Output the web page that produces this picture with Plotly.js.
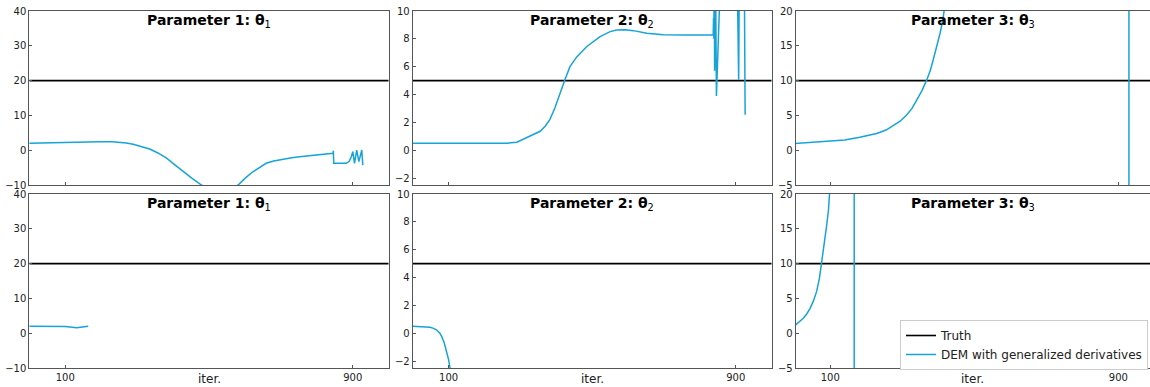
<!DOCTYPE html>
<html>
<head>
<meta charset="utf-8">
<script src="https://cdn.plot.ly/plotly-3.0.1.min.js"></script>
<style>html,body{margin:0;padding:0;background:#fff;}#chart{width:1150px;height:387px;}</style>
</head>
<body>
<div id="chart"></div>
<script>
// ---- data ----
const panelTitles = ["<b>Parameter 1: θ</b><sub>1</sub>", "<b>Parameter 2: θ</b><sub>2</sub>", "<b>Parameter 3: θ</b><sub>3</sub>"];
const truthValues = [20, 5, 10];
const truthIter = [0, 1000];
const xTickVals = [100, 900];
const xTickText = ["100", "900"];
const seriesNames = ["Truth", "DEM with generalized derivatives"];

// top row
const p1TopIter  = [0, 50, 104, 150, 196, 230, 252, 270, 289, 310, 335, 358, 382, 405, 428, 453, 479, 505, 530, 555, 581, 600, 622, 640, 659, 680, 706, 730, 752, 775, 798, 820, 845, 846, 847, 882, 890, 896, 900, 905, 911, 917, 921, 925, 928];
const p1TopValue = [1.98, 2.15, 2.27, 2.38, 2.46, 2.4, 2.27, 2.05, 1.7, 1.15, 0.34, -0.8, -2.3, -4.2, -6.2, -8.1, -10, -11.6, -12.3, -11.7, -10, -8.1, -6.2, -4.9, -3.76, -3.1, -2.5, -2.15, -1.87, -1.6, -1.38, -1.12, -0.9, -0.15, -3.76, -3.76, -3.2, -1.87, -0.43, -3.76, 0.05, -3.3, -1.9, 0.05, -4.3];

const p2TopIter  = [0, 100, 200, 262, 290, 318, 336, 355, 369, 382, 396, 410, 424, 438, 457, 485, 522, 550, 568, 591, 615, 652, 698, 760, 837, 838, 839, 840, 841, 843, 846, 848, 870, 900, 908, 912, 922, 926];
const p2TopValue = [0.5, 0.5, 0.49, 0.5, 0.57, 0.89, 1.13, 1.36, 1.72, 2.2, 3.03, 4.1, 5.06, 6.0, 6.7, 7.45, 8.16, 8.52, 8.64, 8.66, 8.59, 8.4, 8.3, 8.28, 8.28, 9.5, 8.0, 14, 5.7, 15, 3.9, 16, 22, 20, 5.06, 22, 20, 2.55];

const p3TopIter  = [0, 50, 90, 140, 182, 210, 229, 255, 275, 295, 312, 327, 340, 355, 368, 378, 386, 396, 405, 412, 417, 430, 450, 700, 929, 930];
const p3TopValue = [0.95, 1.1, 1.2, 1.45, 1.85, 2.15, 2.4, 2.9, 3.5, 4.2, 5.05, 6.0, 7.2, 8.6, 10.1, 11.5, 13.0, 14.8, 16.8, 18.5, 20, 25, 35, 300, 500, -500];

// bottom row
const p1BotIter  = [0, 50, 100, 132, 150, 164];
const p1BotValue = [2.0, 2.05, 1.95, 1.6, 1.8, 2.0];

const p2BotIter  = [0, 30, 48, 58, 67, 75, 81, 88, 95, 100, 104, 115];
const p2BotValue = [0.5, 0.48, 0.42, 0.35, 0.23, 0.02, -0.25, -0.7, -1.33, -1.9, -2.5, -5];

const p3BotIter  = [0, 12, 25, 35, 44, 53, 62, 70, 76, 83, 90, 95, 99, 110, 166, 167];
const p3BotValue = [1.0, 1.5, 2.14, 2.8, 3.58, 4.6, 5.97, 7.9, 10.04, 12.5, 15.5, 17.7, 20, 30, 300, -300];

const yRanges = [[-10, 40], [-2.5, 10], [-5, 20]];
const yDtick = [10, 2, 5];

// ---- styling / layout ----
const BLUE = "rgb(22,164,216)";
const FONT = "DejaVu Sans";
const W = 1150, H = 387;
const colPx = [[29.3, 388.7], [412.7, 771.7], [795.7, 1150]];
const rowPx = [[11, 185], [194, 368]];
const xRanges = [[0, 1000], [0, 1000], [4, 988]];

const demData = [
  [[p1TopIter, p1TopValue], [p2TopIter, p2TopValue], [p3TopIter, p3TopValue]],
  [[p1BotIter, p1BotValue], [p2BotIter, p2BotValue], [p3BotIter, p3BotValue]]
];

const traces = [];
const layout = {
  width: W, height: H,
  margin: {l: 0, r: 0, t: 0, b: 0, autoexpand: false},
  paper_bgcolor: "#fff", plot_bgcolor: "#fff",
  font: {family: FONT, size: 10, color: "#222"},
  showlegend: true,
  legend: {
    x: 1148 / W, y: 1 - 320 / H, xanchor: "right", yanchor: "top",
    bgcolor: "#fff", bordercolor: "#ccc", borderwidth: 1,
    font: {family: FONT, size: 12, color: "#222"},
    tracegroupgap: 0
  },
  annotations: []
};

let k = 0;
for (let r = 0; r < 2; r++) {
  for (let c = 0; c < 3; c++) {
    k++;
    const xa = "xaxis" + (k === 1 ? "" : k), ya = "yaxis" + (k === 1 ? "" : k);
    const xr = "x" + (k === 1 ? "" : k), yr = "y" + (k === 1 ? "" : k);
    layout[xa] = {
      domain: [colPx[c][0] / W, colPx[c][1] / W],
      range: xRanges[c], anchor: yr, automargin: false,
      showgrid: false, zeroline: false,
      showline: true, mirror: true, linecolor: "#555", linewidth: 1,
      ticks: "inside", ticklen: 3, tickcolor: "#555",
      tickvals: xTickVals, ticktext: xTickText,
      showticklabels: r === 1,
      tickfont: {family: FONT, size: 10, color: "#222"}
    };
    layout[ya] = {
      domain: [1 - rowPx[r][1] / H, 1 - rowPx[r][0] / H],
      range: yRanges[c], anchor: xr, automargin: false,
      showgrid: false, zeroline: false,
      showline: true, mirror: true, linecolor: "#555", linewidth: 1,
      ticks: "inside", ticklen: 3, tickcolor: "#555",
      dtick: yDtick[c], tick0: 0,
      tickfont: {family: FONT, size: 10, color: "#222"}
    };
    traces.push({
      x: truthIter, y: [truthValues[c], truthValues[c]],
      xaxis: xr, yaxis: yr, mode: "lines", type: "scatter",
      line: {color: "#000", width: 1.6},
      name: seriesNames[0], showlegend: k === 1, legendgroup: "truth", hoverinfo: "skip"
    });
    traces.push({
      x: demData[r][c][0], y: demData[r][c][1],
      xaxis: xr, yaxis: yr, mode: "lines", type: "scatter",
      line: {color: BLUE, width: 1.5},
      name: seriesNames[1], showlegend: k === 1, legendgroup: "dem", hoverinfo: "skip"
    });
    layout.annotations.push({
      text: panelTitles[c], xref: "paper", yref: "paper",
      x: (colPx[c][0] + colPx[c][1]) / 2 / W, y: 1 - (rowPx[r][0] + 10) / H,
      xanchor: "center", yanchor: "middle", showarrow: false,
      font: {family: FONT, size: 14, color: "#000"}
    });
    if (r === 1) {
      layout.annotations.push({
        text: "iter.", xref: "paper", yref: "paper",
        x: (colPx[c][0] + colPx[c][1]) / 2 / W, y: 1 - 379 / H,
        xanchor: "center", yanchor: "middle", showarrow: false,
        font: {family: FONT, size: 12, color: "#222"}
      });
    }
  }
}

Plotly.newPlot("chart", traces, layout, {staticPlot: true, displayModeBar: false});
</script>
</body>
</html>
